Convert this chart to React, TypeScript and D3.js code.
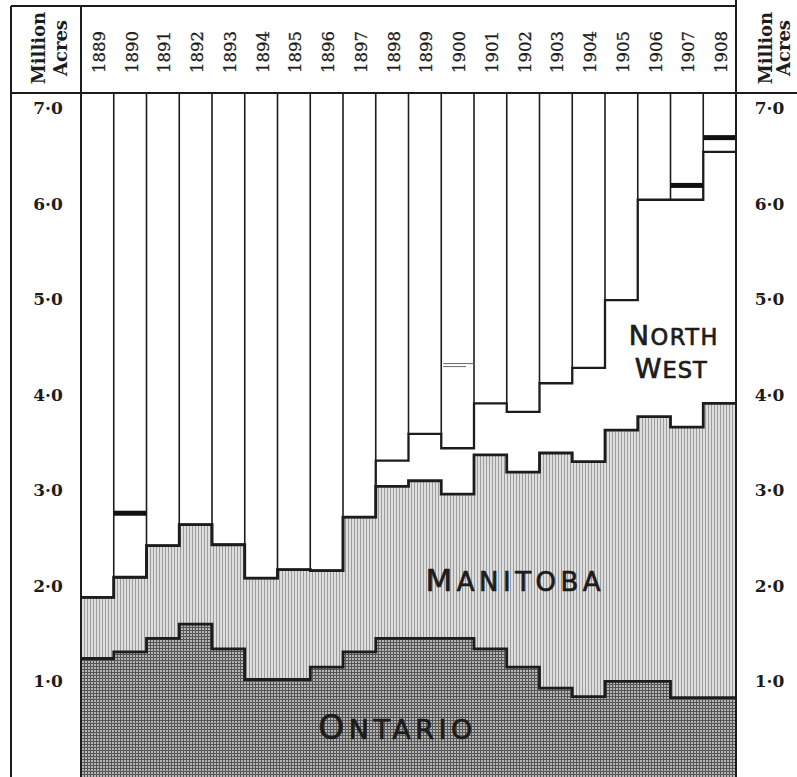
import * as d3 from "d3";

const years = [
  "1889", "1890", "1891", "1892", "1893", "1894", "1895", "1896", "1897", "1898",
  "1899", "1900", "1901", "1902", "1903", "1904", "1905", "1906", "1907", "1908"
];
// million acres under crop, by province
const ontario = [1.24, 1.31, 1.45, 1.6, 1.34, 1.02, 1.02, 1.15, 1.31, 1.45, 1.45, 1.45, 1.34, 1.15, 0.93, 0.84, 1.0, 1.0, 0.83, 0.83];
const manitoba = [0.64, 0.78, 0.97, 1.04, 1.09, 1.06, 1.15, 1.01, 1.41, 1.59, 1.65, 1.51, 2.03, 2.04, 2.46, 2.46, 2.63, 2.77, 2.83, 3.08];
const northWest = [0, 0, 0, 0, 0, 0, 0, 0, 0, 0.27, 0.49, 0.48, 0.54, 0.63, 0.73, 0.98, 1.36, 2.27, 2.38, 2.63];
const markerYears = ["1890", "1900", "1907", "1908"];
const markerValues = [2.76, 4.31, 6.19, 6.69];
const markerKinds = ["bar", "double", "bar", "bar"];
const yTicks = [1, 2, 3, 4, 5, 6, 7];
const yTickLabels = ["1·0", "2·0", "3·0", "4·0", "5·0", "6·0", "7·0"];

type Row = { year: string; ontario: number; manitoba: number; northWest: number };
type StepPoint = { x: number; y0: number; y1: number };

const width = 797;
const height = 777;
const frame = { left: 11, top: 6, header: 93, plotLeft: 81, plotRight: 736 };
const ink = "#1c1c1c";
const serif = "'DejaVu Serif', serif";
const sans = "'DejaVu Sans', sans-serif";

export default function App() {
  const x = d3.scaleBand(years, [frame.plotLeft, frame.plotRight]).padding(0);
  const bw = x.bandwidth();
  const y = d3.scaleLinear([0, 7], [777, 108]);
  const rows: Row[] = years.map((year, i) => ({
    year,
    ontario: ontario[i],
    manitoba: manitoba[i],
    northWest: northWest[i]
  }));
  const series = d3.stack<Row>().keys(["ontario", "manitoba", "northWest"])(rows);

  const steps = (s: d3.Series<Row, string>): StepPoint[] =>
    s.flatMap((d) => {
      const x0 = x(d.data.year) ?? 0;
      return [
        { x: x0, y0: y(d[0]), y1: y(d[1]) },
        { x: x0 + bw, y0: y(d[0]), y1: y(d[1]) }
      ];
    });
  const area = d3.area<StepPoint>().x((p) => p.x).y0((p) => p.y0).y1((p) => p.y1);
  const topLine = d3.line<StepPoint>().x((p) => p.x).y((p) => p.y1);

  const [onSeries, mbSeries, nwSeries] = series;
  const totalY = nwSeries.map((d) => y(d[1]));
  const leftMid = (frame.left + frame.plotLeft) / 2;
  const rightMid = (frame.plotRight + width) / 2;

  return (
    <svg
      width={width}
      height={height}
      viewBox={`0 0 ${width} ${height}`}
      style={{ position: "absolute", left: 0, top: 0, background: "#fff" }}
    >
      <defs>
        <pattern id="mb-hatch" width="3" height="3" patternUnits="userSpaceOnUse">
          <rect width="3" height="3" fill="#dedede" />
          <rect x="0" width="1" height="3" fill="#9c9c9c" />
        </pattern>
        <pattern id="on-hatch" width="3" height="3" patternUnits="userSpaceOnUse">
          <rect width="3" height="3" fill="#b5b5b5" />
          <rect x="0" width="1" height="3" fill="#555" />
          <rect y="0" width="3" height="1" fill="#555" />
        </pattern>
      </defs>
      <rect width={width} height={height} fill="#fff" />

      <path d={area(steps(onSeries)) ?? undefined} fill="url(#on-hatch)" />
      <path d={area(steps(mbSeries)) ?? undefined} fill="url(#mb-hatch)" />

      {/* column dividers above the total */}
      {years.slice(1).map((year, i) => (
        <line
          key={year}
          x1={x(year)}
          x2={x(year)}
          y1={frame.header}
          y2={Math.min(totalY[i], totalY[i + 1])}
          stroke={ink}
          strokeWidth={1.6}
        />
      ))}

      <path d={topLine(steps(onSeries)) ?? undefined} fill="none" stroke={ink} strokeWidth={2.8} />
      <path d={topLine(steps(mbSeries)) ?? undefined} fill="none" stroke={ink} strokeWidth={2.8} />
      <path d={topLine(steps(nwSeries)) ?? undefined} fill="none" stroke={ink} strokeWidth={2.3} />

      {markerYears.map((year, i) => {
        const x0 = x(year) ?? 0;
        const my = y(markerValues[i]);
        return markerKinds[i] === "bar" ? (
          <rect key={year} x={x0} y={my - 2.5} width={bw} height={5} fill="#111" />
        ) : (
          <g key={year} stroke="#666" strokeWidth={1}>
            <line x1={x0 + 2} x2={x0 + bw} y1={my - 1.5} y2={my - 1.5} />
            <line x1={x0 + 2} x2={x0 + bw - 8} y1={my + 1.5} y2={my + 1.5} />
          </g>
        );
      })}

      {/* frame */}
      <g stroke={ink} strokeWidth={2} fill="none">
        <line x1={frame.left} x2={frame.plotRight} y1={frame.top} y2={frame.top} />
        <line x1={frame.left} x2={width} y1={frame.header} y2={frame.header} />
        <line x1={frame.left} x2={frame.left} y1={frame.top} y2={height} />
        <line x1={frame.plotLeft} x2={frame.plotLeft} y1={frame.top} y2={height} />
        <line x1={frame.plotRight} x2={frame.plotRight} y1={0} y2={height} />
      </g>

      {/* header */}
      {years.map((year) => (
        <text
          key={year}
          transform={`translate(${(x(year) ?? 0) + bw / 2 + 7.5},${52}) rotate(-90)`}
          textAnchor="middle"
          fontFamily={serif}
          fontSize={16.5}
          fill={ink}
          stroke={ink}
          strokeWidth={0.3}
        >
          {year}
        </text>
      ))}
      {[
        { m: leftMid - 1, a: leftMid + 21 },
        { m: rightMid + 5.5, a: rightMid + 23.5 }
      ].map((c) => (
        <g key={c.m} fontFamily={serif} fontSize={18} fontWeight="bold" fill={ink} textAnchor="middle">
          <text transform={`translate(${c.m},${48}) rotate(-90)`}>Million</text>
          <text transform={`translate(${c.a},${48}) rotate(-90)`}>Acres</text>
        </g>
      ))}

      {/* axis labels */}
      {yTicks.map((t, i) => (
        <g key={t} fontFamily={serif} fontSize={17} fontWeight="bold" fill={ink} textAnchor="middle">
          <text x={leftMid + 2} y={y(t) + 6}>{yTickLabels[i]}</text>
          <text x={rightMid + 3} y={y(t) + 6}>{yTickLabels[i]}</text>
        </g>
      ))}

      {/* region labels */}
      <g fontFamily={sans} fill={ink} stroke={ink} strokeWidth={0.7}>
        <text x={(x("1906") ?? 0) - 9} y={y(4.52)} letterSpacing={1.5}>
          <tspan fontSize={27}>N</tspan>
          <tspan fontSize={22.5}>ORTH</tspan>
        </text>
        <text x={(x("1906") ?? 0) - 3} y={y(4.17)} letterSpacing={1}>
          <tspan fontSize={27}>W</tspan>
          <tspan fontSize={22.5}>EST</tspan>
        </text>
        <text x={(x("1899") ?? 0) + 17} y={y(1.95)} letterSpacing={4.5}>
          <tspan fontSize={31}>M</tspan>
          <tspan fontSize={26}>ANITOBA</tspan>
        </text>
        <text x={(x("1896") ?? 0) + 8} y={y(0.4)} letterSpacing={4.5}>
          <tspan fontSize={33}>O</tspan>
          <tspan fontSize={27}>NTARIO</tspan>
        </text>
      </g>
    </svg>
  );
}
